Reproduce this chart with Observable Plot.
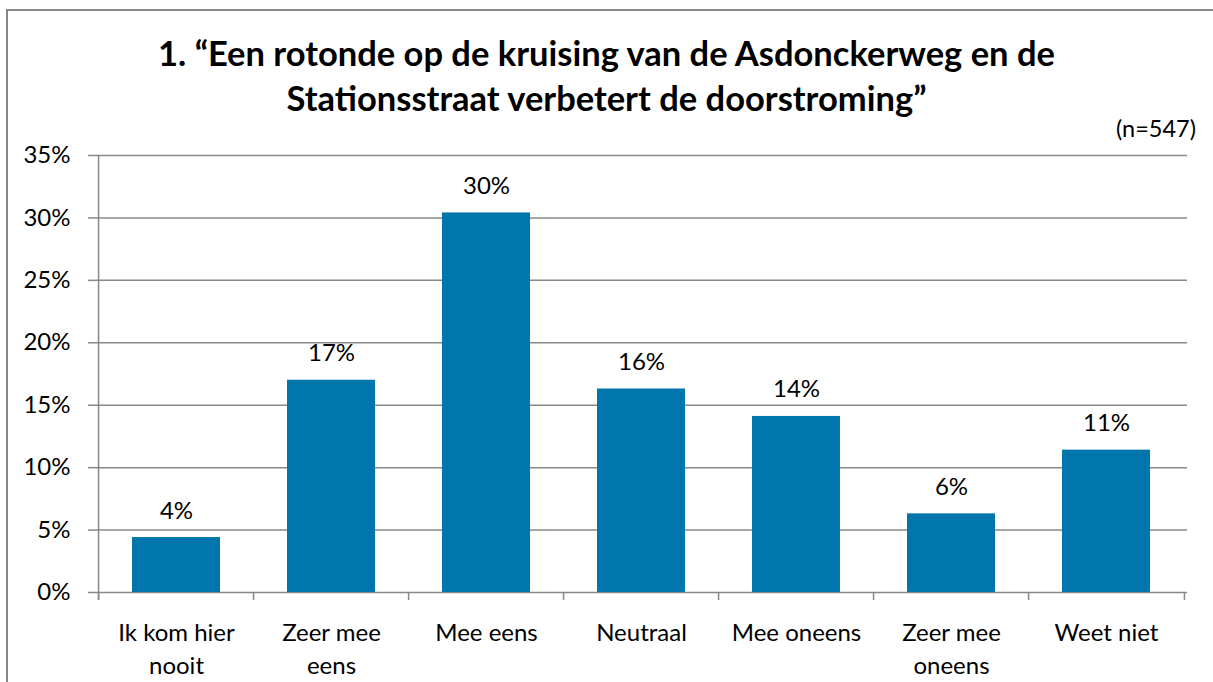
<!DOCTYPE html>
<html>
<head>
<meta charset="utf-8">
<script src="https://cdn.jsdelivr.net/npm/d3@7"></script>
<script src="https://cdn.jsdelivr.net/npm/@observablehq/plot@0.6"></script>
<style>
  html, body { margin: 0; padding: 0; background: #fff; }
  #wrap { position: relative; width: 1213px; height: 682px; overflow: hidden; background: #fff; font-family: Lato, "Open Sans", sans-serif; color: #000; }
  #border { position: absolute; left: 6px; top: 9px; width: 1400px; height: 900px; border: 2px solid #878787; box-sizing: border-box; pointer-events: none; }
  #head { position: relative; height: 125px; }
  #title { position: absolute; left: 0; top: 30px; width: 1213px; text-align: center; font-weight: 700; font-size: 34.5px; line-height: 45px; }
  #n { position: absolute; right: 17px; top: 117px; font-size: 23.5px; line-height: 23px; }
  #chart svg { display: block; }
</style>
</head>
<body>
<div id="wrap">
  <div id="border"></div>
  <div id="head">
    <div id="title">1. “Een rotonde op de kruising van de Asdonckerweg en de<br>Stationsstraat verbetert de doorstroming”</div>
    <div id="n">(n=547)</div>
  </div>
  <div id="chart"></div>
</div>
<script>
const categories = ["Ik kom hier nooit", "Zeer mee eens", "Mee eens", "Neutraal", "Mee oneens", "Zeer mee oneens", "Weet niet"];
const tickLabels = ["Ik kom hier\nnooit", "Zeer mee\neens", "Mee eens", "Neutraal", "Mee oneens", "Zeer mee\noneens", "Weet niet"];
const values = [4.4, 17.0, 30.4, 16.3, 14.1, 6.3, 11.4];
const yTicks = [0, 5, 10, 15, 20, 25, 30, 35];

const data = categories.map((c, i) => ({cat: c, value: values[i]}));
const labelOf = new Map(categories.map((c, i) => [c, tickLabels[i]]));

const W = 1213, H = 557;
const mL = 96, mR = 26, mT = 30, mB = 90;
const step = (W - mL - mR) / categories.length;
const grid = "#888888";
const barColor = "#0176ad";
const fs = 24;

const chart = Plot.plot({
  width: W,
  height: H,
  marginLeft: mL,
  marginRight: mR,
  marginTop: mT,
  marginBottom: mB,
  style: {fontFamily: "Lato, 'Open Sans', sans-serif", fontSize: fs + "px", color: "#000", background: "#fff"},
  x: {domain: categories, paddingInner: 0.43, paddingOuter: 0.215, label: null},
  y: {domain: [0, 35], label: null},
  marks: [
    Plot.gridY(yTicks, {stroke: grid, strokeOpacity: 1, strokeWidth: 1.5}),
    Plot.axisY(yTicks, {tickSize: 8, tickPadding: 18, stroke: grid, strokeWidth: 1.5, strokeOpacity: 1, tickFormat: d => d + "%", fontSize: fs, fill: "#000", label: null}),
    Plot.barY(data, {x: "cat", y: "value", fill: barColor}),
    Plot.ruleX([categories[0]], {dx: -step / 2, stroke: grid, strokeWidth: 1.5, insetBottom: -8}),
    Plot.ruleX(categories, {y1: 0, y2: 0, insetBottom: -8, dx: -step / 2, stroke: grid, strokeWidth: 1.5}),
    Plot.ruleX([categories[categories.length - 1]], {y1: 0, y2: 0, insetBottom: -8, dx: step / 2, stroke: grid, strokeWidth: 1.5}),
    Plot.text(data, {x: "cat", y: "value", text: d => Math.round(d.value) + "%", lineAnchor: "bottom", dy: -19, fontSize: fs, fill: "#000"}),
    Plot.axisX({tickSize: 0, tickPadding: 25, tickFormat: d => labelOf.get(d), lineHeight: 1.37, fontSize: fs, fill: "#000", label: null})
  ]
});
document.getElementById("chart").appendChild(chart);
</script>
</body>
</html>
